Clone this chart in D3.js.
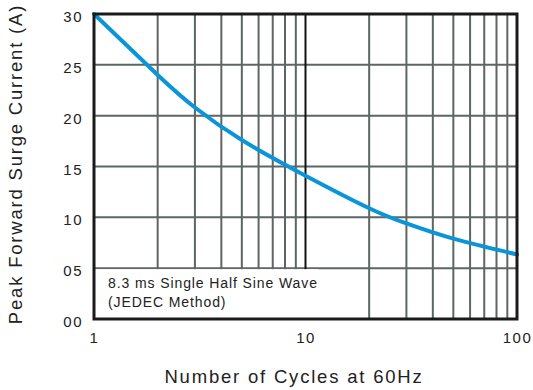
<!DOCTYPE html>
<html>
<head>
<meta charset="utf-8">
<script src="https://cdn.jsdelivr.net/npm/d3@7"></script>
<style>
  body { margin:0; background:#fff; }
  text { font-family: "Liberation Sans", Arial, sans-serif; fill:#222; }
</style>
</head>
<body>
<div id="canvas"></div>
<script>
// data
var cycles = [1, 2, 3, 5, 10, 20, 30, 50, 100];
var surge  = [30, 24, 20.8, 17.6, 14.1, 10.9, 9.4, 7.9, 6.35];
var yTicks = [0, 5, 10, 15, 20, 25, 30];
var yTickLabels = ['00', '05', '10', '15', '20', '25', '30'];
var xTicks = [1, 10, 100];
var xMinor = [2,3,4,5,6,7,8,9,20,30,40,50,60,70,80,90];
var noteLines = ['8.3 ms Single Half Sine Wave', '(JEDEC Method)'];

var W = 533, H = 390;
var m = {t:14, r:16, b:71, l:94};
var w = W - m.l - m.r, h = H - m.t - m.b;

var svg = d3.select('#canvas').append('svg')
    .attr('width', W).attr('height', H);
var plot = svg.append('g')
    .attr('transform', 'translate(' + m.l + ',' + m.t + ')');

var x = d3.scaleLog().domain([1, 100]).range([0, w]);
var y = d3.scaleLinear().domain([0, 30]).range([h, 0]);

// grid
plot.selectAll('.vminor').data(xMinor).enter().append('line')
    .attr('x1', d => x(d)).attr('x2', d => x(d))
    .attr('y1', 0).attr('y2', h)
    .attr('stroke', '#5d6664').attr('stroke-width', 2);
plot.selectAll('.hgrid').data(yTicks.slice(1, -1)).enter().append('line')
    .attr('x1', 0).attr('x2', w)
    .attr('y1', d => y(d)).attr('y2', d => y(d))
    .attr('stroke', '#5d6664').attr('stroke-width', 2);
plot.append('line')
    .attr('x1', x(10)).attr('x2', x(10)).attr('y1', 0).attr('y2', h)
    .attr('stroke', '#111').attr('stroke-width', 2);

// note box covering the grid
var box = plot.append('g');
box.append('rect')
    .attr('x', 0).attr('y', y(5) + 1)
    .attr('width', x(11.5)).attr('height', h - y(5) - 1)
    .attr('fill', '#fff');
box.selectAll('text').data(noteLines).enter().append('text')
    .attr('x', 14).attr('y', (d, i) => y(5) + 20 + i * 19)
    .style('font-size', '14px')
    .style('letter-spacing', '0.9px')
    .text(d => d);

// curve
var line = d3.line()
    .x((d, i) => x(cycles[i]))
    .y(d => y(d))
    .curve(d3.curveNatural);
plot.append('path').datum(surge)
    .attr('d', line)
    .attr('fill', 'none')
    .attr('stroke', '#0a95d9')
    .attr('stroke-width', 4)
    .attr('stroke-linecap', 'round');

// frame
plot.append('rect').attr('width', w).attr('height', h)
    .attr('fill', 'none').attr('stroke', '#1a1a1a').attr('stroke-width', 3);

// axes
var axisY = d3.axisLeft(y).tickValues(yTicks).tickSize(0).tickPadding(11)
    .tickFormat((d, i) => yTickLabels[i]);
var gy = plot.append('g').call(axisY);
gy.select('.domain').remove();
gy.selectAll('text').style('font-size', '15px').style('letter-spacing', '1.5px')
    .attr('dy', '0.5em').attr('fill', '#222');

var axisX = d3.axisBottom(x).tickValues(xTicks).tickSize(0).tickPadding(13)
    .tickFormat(d3.format('d'));
var gx = plot.append('g').attr('transform', 'translate(0,' + h + ')').call(axisX);
gx.select('.domain').remove();
gx.selectAll('text').style('font-size', '15px').style('letter-spacing', '1.5px')
    .attr('fill', '#222');

// axis titles
svg.append('text')
    .attr('x', 294).attr('y', 383)
    .attr('text-anchor', 'middle')
    .style('font-size', '18.5px')
    .style('letter-spacing', '1.8px')
    .text('Number of Cycles at 60Hz');
svg.append('text')
    .attr('transform', 'translate(22,' + 164 + ') rotate(-90)')
    .attr('text-anchor', 'middle')
    .style('font-size', '18.5px')
    .style('letter-spacing', '1.8px')
    .text('Peak Forward Surge Current (A)');
</script>
</body>
</html>
